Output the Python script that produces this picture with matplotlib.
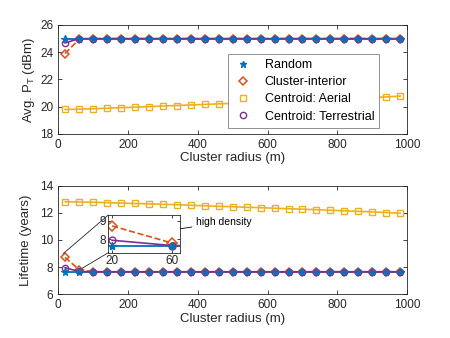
import matplotlib
matplotlib.use("Agg")
import matplotlib.pyplot as plt
from matplotlib.patches import ConnectionPatch
from matplotlib.lines import Line2D

plt.rcParams['font.family'] = ['Liberation Sans', 'DejaVu Sans']

radius = [20, 60, 100, 140, 180, 220, 260, 300, 340, 380, 420, 460, 500,
          540, 580, 620, 660, 700, 740, 780, 820, 860, 900, 940, 980]

# Top panel: Avg. transmit power (dBm)
pt_random = [25.0] * 25
pt_cluster = [23.9, 24.95] + [25.0] * 23
pt_aerial = [19.80, 19.82, 19.85, 19.89, 19.93, 19.97, 20.01, 20.05, 20.09,
             20.13, 20.17, 20.21, 20.25, 20.29, 20.33, 20.37, 20.41, 20.45,
             20.49, 20.53, 20.57, 20.62, 20.67, 20.72, 20.78]
pt_terr = [24.68, 25.0] + [25.0] * 23

# Bottom panel: lifetime (years)
lt_random = [7.64] * 25
lt_cluster = [8.72, 7.82] + [7.66] * 23
lt_aerial = [12.82, 12.80, 12.78, 12.75, 12.72, 12.69, 12.66, 12.63, 12.60,
             12.56, 12.52, 12.48, 12.45, 12.41, 12.38, 12.34, 12.30, 12.27,
             12.23, 12.19, 12.15, 12.11, 12.07, 12.02, 11.97]
lt_terr = [7.96, 7.68] + [7.66] * 23

labels = ["Random", "Cluster-interior", "Centroid: Aerial", "Centroid: Terrestrial"]

C_BLUE = "#0072BD"
C_ORANGE = "#D95319"
C_YELLOW = "#EDB120"
C_PURPLE = "#7E2F8E"
AXC = "#262626"

fig = plt.figure(figsize=(4.5, 3.38), dpi=100)
ax1 = fig.add_axes([0.129, 0.6036, 0.776, 0.3225])
ax2 = fig.add_axes([0.129, 0.1293, 0.776, 0.3213])


def draw(ax, ys, ms=5.5):
    ax.plot(radius, ys[0], '-', color=C_BLUE, lw=1.3, marker='*', ms=ms,
            mec=C_BLUE, mfc=C_BLUE, mew=0.8)
    ax.plot(radius, ys[1], '--', color=C_ORANGE, lw=1.2, marker='D', ms=ms - 1,
            mec=C_ORANGE, mfc='none', mew=1.1)
    ax.plot(radius, ys[2], '-', color=C_YELLOW, lw=1.2, marker='s', ms=ms - 1,
            mec=C_YELLOW, mfc='none', mew=1.0)
    ax.plot(radius, ys[3], '-', color=C_PURPLE, lw=1.2, marker='o', ms=ms - 1,
            mec=C_PURPLE, mfc='none', mew=1.0)
    # random markers on top
    ax.plot(radius, ys[0], linestyle='none', marker='*', ms=ms, mec=C_BLUE, mfc=C_BLUE, mew=0.8)


def style(ax, fs=8.5):
    for s in ax.spines.values():
        s.set_color(AXC)
        s.set_linewidth(0.6)
    ax.tick_params(direction='in', top=True, right=True, colors=AXC,
                   labelsize=fs, length=3, width=0.6, labelcolor=AXC)


draw(ax1, [pt_random, pt_cluster, pt_aerial, pt_terr])
ax1.set_xlim(0, 1000)
ax1.set_ylim(18, 26)
ax1.set_xticks([0, 200, 400, 600, 800, 1000])
ax1.set_yticks([18, 20, 22, 24, 26])
style(ax1)
ax1.set_xlabel("Cluster radius (m)", fontsize=9.5, color=AXC, labelpad=1)
ax1.set_ylabel("Avg. P$_\\mathregular{T}$ (dBm)", fontsize=9.5, color=AXC, labelpad=2)

leg_handles = [
    Line2D([], [], ls='none', marker='*', ms=5, color=C_BLUE),
    Line2D([], [], ls='none', marker='D', ms=4.5, mec=C_ORANGE, mfc='none', mew=1.1),
    Line2D([], [], ls='none', marker='s', ms=4.5, mec=C_YELLOW, mfc='none', mew=1.0),
    Line2D([], [], ls='none', marker='o', ms=4.5, mec=C_PURPLE, mfc='none', mew=1.0),
]
leg = ax1.legend(leg_handles, labels, loc='upper right', bbox_to_anchor=(379.3 / 450, 1 - 54 / 338),
                 bbox_transform=fig.transFigure, borderaxespad=0, fontsize=9,
                 fancybox=False, framealpha=1, edgecolor='#7f7f7f', handlelength=1.6,
                 handletextpad=0.9, labelspacing=0.42, borderpad=0.4)
leg.get_frame().set_linewidth(0.6)

draw(ax2, [lt_random, lt_cluster, lt_aerial, lt_terr])
ax2.set_xlim(0, 1000)
ax2.set_ylim(6, 14)
ax2.set_xticks([0, 200, 400, 600, 800, 1000])
ax2.set_yticks([6, 8, 10, 12, 14])
style(ax2)
ax2.set_xlabel("Cluster radius (m)", fontsize=9.5, color=AXC, labelpad=1)
ax2.set_ylabel("Lifetime (years)", fontsize=9.5, color=AXC, labelpad=6)

# inset
axin = fig.add_axes([0.2407, 0.2524, 0.159, 0.1115])
draw(axin, [lt_random, lt_cluster, lt_aerial, lt_terr], ms=6)
axin.set_xlim(17.5, 65.6)
axin.set_ylim(7.3, 9.3)
axin.set_xticks([20, 60])
axin.set_yticks([8, 9])
style(axin, fs=8.5)
axin.tick_params(pad=1.5, length=2.5)

for xyA, xyB in [((0, 1), (15, 9.0)), ((0, 0), (68, 7.9))]:
    cp = ConnectionPatch(xyA=xyA, coordsA=axin.transAxes, xyB=xyB, coordsB=ax2.transData,
                         color=AXC, lw=0.6)
    fig.add_artist(cp)

ax2.annotate("high density", xy=(160 / 450, 1 - 232 / 338), xycoords='figure fraction',
             xytext=(196 / 450, 1 - 222 / 338), textcoords='figure fraction',
             fontsize=7.5, va='center', ha='left', color='black',
             arrowprops=dict(arrowstyle='-|>,head_length=0.9,head_width=0.35', color='black',
                             lw=0.6, shrinkA=1, shrinkB=0))

fig.savefig("out.png", dpi=100)
